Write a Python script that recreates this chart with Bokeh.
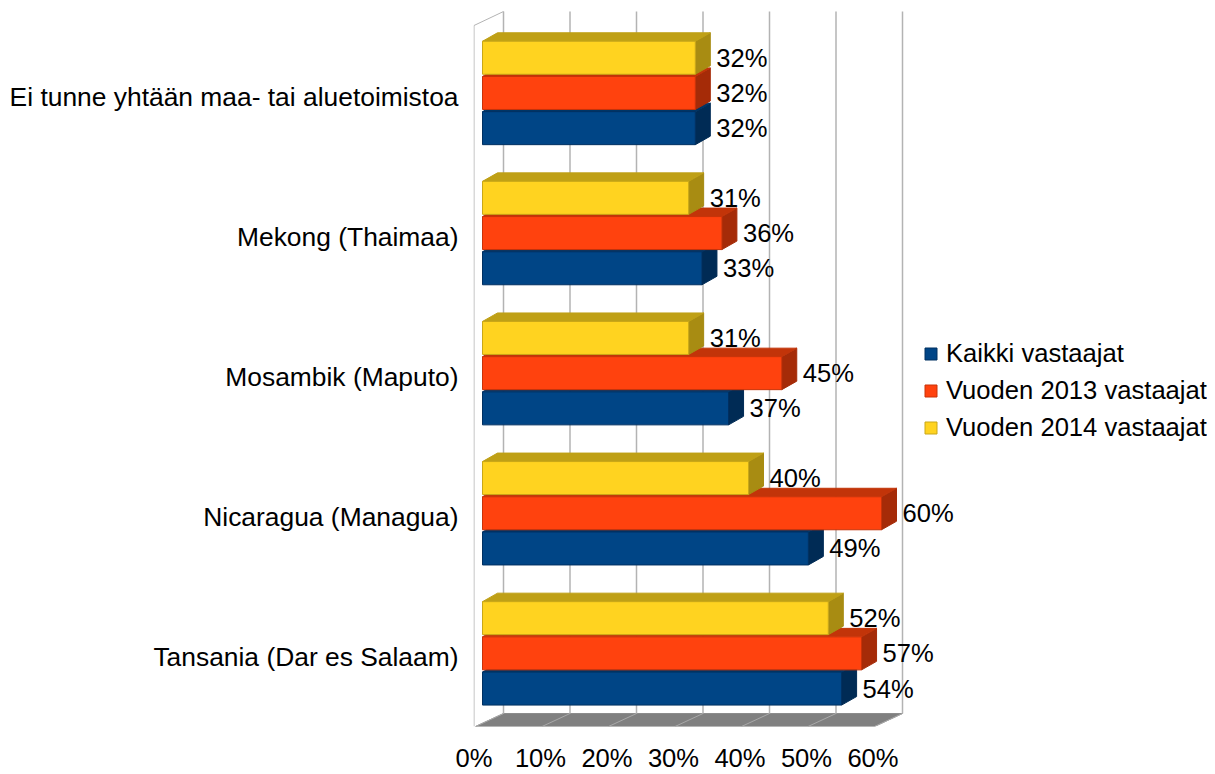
from bokeh.plotting import figure
from bokeh.models import (FixedTicker, Legend, LegendItem, PrintfTickFormatter,
                          ColumnDataSource, Range1d)
from bokeh.core.properties import value
from bokeh.embed import file_html
from bokeh.resources import INLINE

# ---------------- data ----------------
categories = ["Tansania (Dar es Salaam)", "Nicaragua (Managua)", "Mosambik (Maputo)",
              "Mekong (Thaimaa)", "Ei tunne yhtään maa- tai aluetoimistoa"]
series_names = ["Kaikki vastaajat", "Vuoden 2013 vastaajat", "Vuoden 2014 vastaajat"]
kaikki = [54, 49, 37, 33, 32]
v2013 = [57, 60, 45, 36, 32]
v2014 = [52, 40, 31, 31, 32]
x_ticks = [0, 10, 20, 30, 40, 50, 60]

# ---------------- style / geometry ----------------
FONT = "Liberation Sans"
FS = "25.6px"
FS_CAT = "26.4px"
front_colors = ["#004586", "#ff420e", "#ffd320"]
side_colors = ["#002b55", "#a52b08", "#a88c12"]
top_colors = ["#003566", "#c23409", "#bfa016"]
edge_colors = ["#003061", "#c83309", "#c9a718"]

PX_X = 6.65      # px per percent
PX_Y = 140.1     # px per category unit
X0 = -0.5 / PX_X
X1 = X0 + 734 / PX_X
FLOOR_Y = -0.496
Y1 = FLOOR_Y + 716 / PX_Y

FRONT_DX = 8.5 / PX_X          # bar front plane offset
DDX, DDY = 15 / PX_X, 8.5 / PX_Y   # bar depth
FX0 = 1.5 / PX_X               # floor front offset
WDX, WDY = 28 / PX_X, 13 / PX_Y    # wall depth
BAR_H = 33 / PX_Y
BAR_STEP = 35.2 / PX_Y
BAR_SHIFT = 0.026
LABEL_GAP = 21 / PX_X

p = figure(frame_width=734, frame_height=716,
           x_range=Range1d(X0, X1), y_range=Range1d(FLOOR_Y, Y1),
           output_backend="svg", toolbar_location=None,
           min_border_left=473, min_border_right=0,
           min_border_top=10, min_border_bottom=48)
p.outline_line_color = None
p.grid.visible = False
p.background_fill_color = "white"
p.border_fill_color = "white"

# ---------------- walls / floor ----------------
xmax = max(x_ticks)
p.patch([FX0, FX0 + xmax, FX0 + xmax + WDX, FX0 + WDX],
        [FLOOR_Y, FLOOR_Y, FLOOR_Y + WDY, FLOOR_Y + WDY],
        fill_color="#808080", line_color="#8c8c8c", line_width=1)
p.segment(x0=[t + FX0 for t in x_ticks], y0=[FLOOR_Y] * len(x_ticks),
          x1=[t + FX0 + WDX for t in x_ticks], y1=[FLOOR_Y + WDY] * len(x_ticks),
          line_color="#a8a8a8", line_width=1)
top_back = FLOOR_Y + 715 / PX_Y
p.segment(x0=[t + FX0 + WDX for t in x_ticks], y0=[FLOOR_Y + WDY] * len(x_ticks),
          x1=[t + FX0 + WDX for t in x_ticks], y1=[top_back] * len(x_ticks),
          line_color="#b3b3b3", line_width=1.5)
left_top = FLOOR_Y + 701 / PX_Y
p.segment(x0=[0, 0], y0=[FLOOR_Y, left_top], x1=[0, FX0 + WDX], y1=[left_top, top_back],
          line_color="#b3b3b3", line_width=1)

# ---------------- bars ----------------
legend_items = []
for k, (name, vals) in enumerate(zip(series_names, [kaikki, v2013, v2014])):
    yc = [i + BAR_SHIFT + (k - 1) * BAR_STEP for i in range(len(categories))]
    left = [FRONT_DX] * len(vals)
    right = [FRONT_DX + v for v in vals]
    bottom = [y - BAR_H / 2 for y in yc]
    top = [y + BAR_H / 2 for y in yc]
    src = ColumnDataSource(dict(left=left, right=right, bottom=bottom, top=top, yc=yc,
                                lx=[r + LABEL_GAP for r in right],
                                lab=[f"{v}%" for v in vals]))
    # side faces
    side_xs = [[r, r + DDX, r + DDX, r] for r in right]
    side_ys = [[b, b + DDY, t + DDY, t] for b, t in zip(bottom, top)]
    p.patches(side_xs, side_ys, fill_color=side_colors[k], line_color=side_colors[k], line_width=1)
    # top faces
    top_xs = [[l, l + DDX, r + DDX, r] for l, r in zip(left, right)]
    top_ys = [[t, t + DDY, t + DDY, t] for t in top]
    p.patches(top_xs, top_ys, fill_color=top_colors[k], line_color=top_colors[k], line_width=1)
    # front faces
    r = p.quad(left="left", right="right", bottom="bottom", top="top", source=src,
               fill_color=front_colors[k], line_color=edge_colors[k], line_width=1)
    legend_items.append(LegendItem(label=name, renderers=[r]))
    # data labels
    p.text(x="lx", y="yc", text="lab", source=src, text_font=value(FONT),
           text_font_size=FS, text_baseline="middle", text_align="left", text_color="#000000")

# ---------------- axes ----------------
p.xaxis.ticker = FixedTicker(ticks=x_ticks)
p.xaxis.formatter = PrintfTickFormatter(format="%d%%")
p.xaxis.axis_line_color = None
p.xaxis.major_tick_line_color = None
p.xaxis.minor_tick_line_color = None
p.xaxis.major_label_standoff = 11
p.xaxis.major_label_text_font = FONT
p.xaxis.major_label_text_font_size = FS
p.xaxis.major_label_text_color = "#000000"

p.yaxis.ticker = FixedTicker(ticks=list(range(len(categories))))
p.yaxis.major_label_overrides = {i: c for i, c in enumerate(categories)}
p.yaxis.axis_line_color = None
p.yaxis.major_tick_line_color = None
p.yaxis.minor_tick_line_color = None
p.yaxis.major_label_standoff = 9
p.yaxis.major_label_text_font = FONT
p.yaxis.major_label_text_font_size = FS_CAT
p.yaxis.major_label_text_color = "#000000"

# ---------------- legend ----------------
legend = Legend(items=legend_items, location=(450, 283), orientation="vertical",
                glyph_width=15, glyph_height=15, label_height=32, spacing=5,
                label_standoff=8, padding=0, margin=0,
                border_line_color=None, background_fill_alpha=0,
                label_text_font=FONT, label_text_font_size=FS,
                label_text_color="#000000")
p.add_layout(legend)

open("out.html", "w").write(file_html(p, INLINE))
